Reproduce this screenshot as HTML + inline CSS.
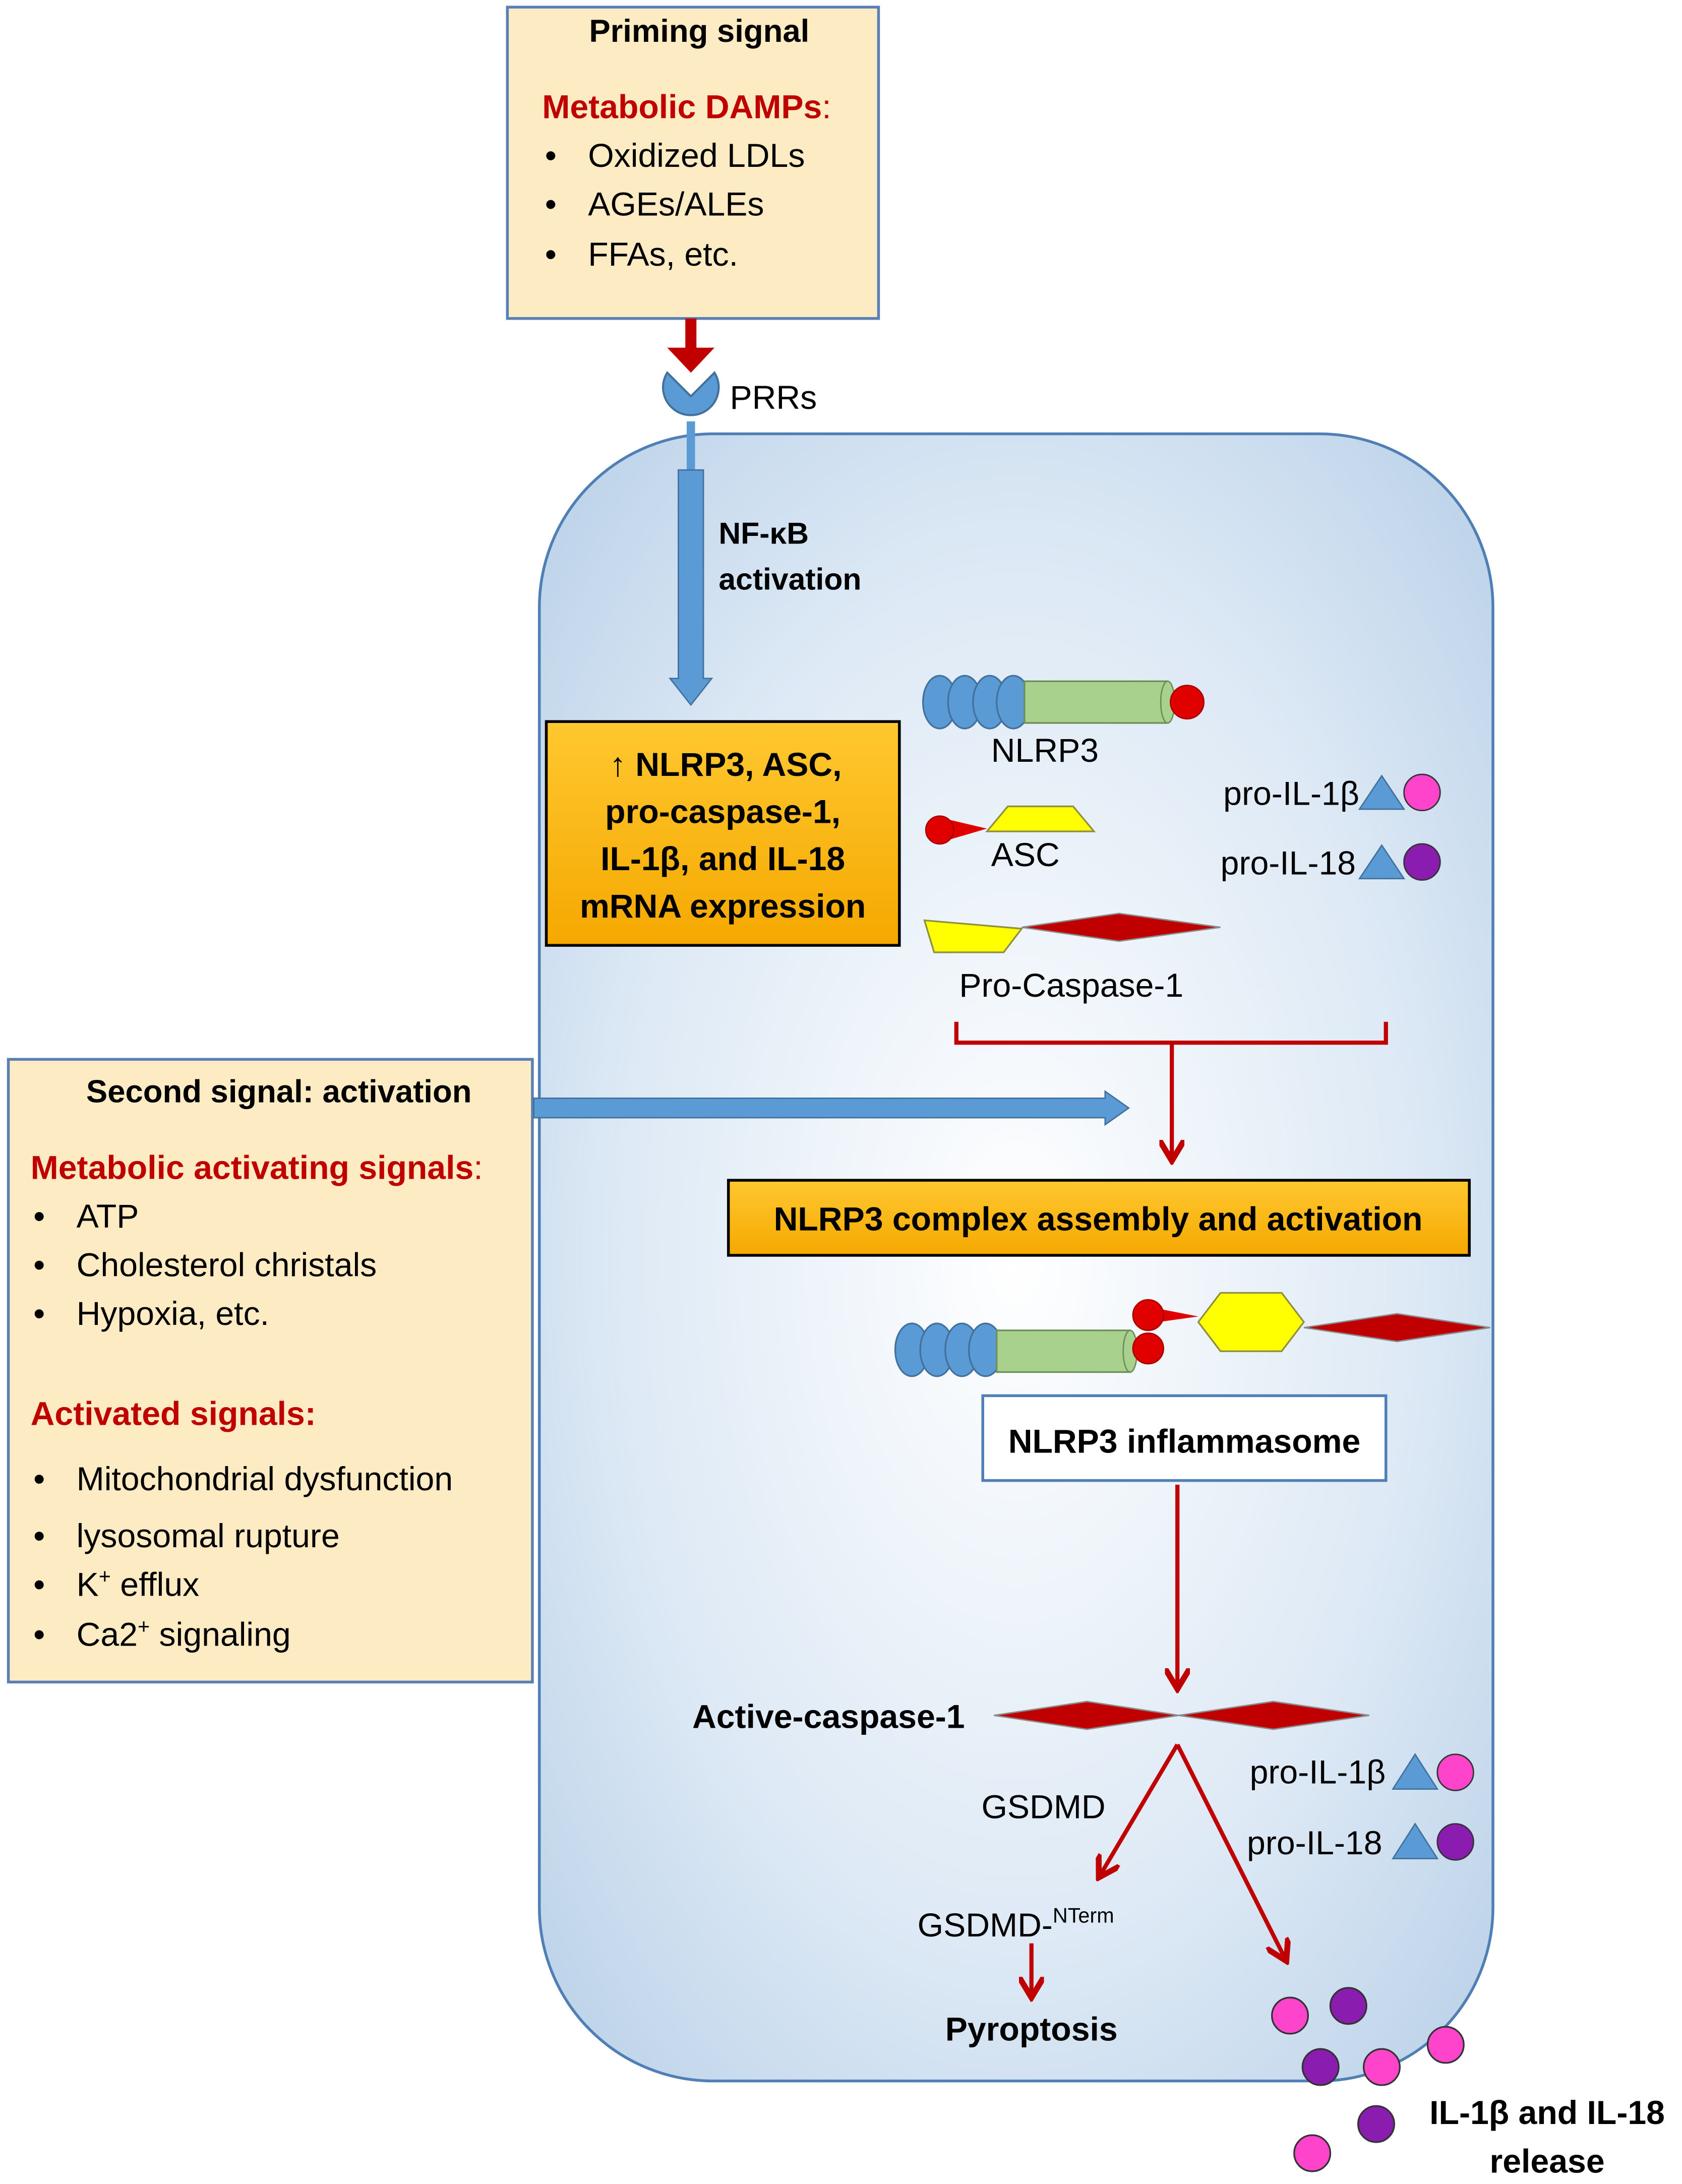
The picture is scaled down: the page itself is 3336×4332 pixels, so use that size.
<!DOCTYPE html>
<html><head><meta charset="utf-8"><style>
html,body{margin:0;padding:0;background:#fff;}
svg{display:block;}
text{font-family:"Liberation Sans",sans-serif;}
</style></head><body>
<svg width="3336" height="4332" viewBox="0 0 1210 1571" xmlns="http://www.w3.org/2000/svg">
<defs>
<radialGradient id="cell" cx="0.5" cy="0.5" r="0.7">
<stop offset="0" stop-color="#ffffff"/><stop offset="0.6" stop-color="#dde9f5"/><stop offset="1" stop-color="#b9d0e8"/>
</radialGradient>
<linearGradient id="org" x1="0" y1="0" x2="0" y2="1"><stop offset="0" stop-color="#ffc830"/><stop offset="1" stop-color="#f5a800"/></linearGradient>
<marker id="rh" markerWidth="6" markerHeight="6" refX="4" refY="3" orient="auto" markerUnits="strokeWidth"><path d="M0,0 L5,3 L0,6" fill="none" stroke="#c00000" stroke-width="1.4"/></marker>
</defs>
<rect x="388" y="312" width="686" height="1185" rx="125" fill="url(#cell)" stroke="#4f7fb5" stroke-width="2"/>
<rect x="365" y="5" width="267" height="224" fill="#fdebc4" stroke="#5a7fb5" stroke-width="2"/>
<text x="503" y="30" font-size="23" font-weight="bold" text-anchor="middle">Priming signal</text>
<text x="390" y="85" font-size="24" font-weight="bold" fill="#c00000">Metabolic DAMPs<tspan font-weight="normal">:</tspan></text>
<g font-size="24"><text x="392" y="120">•</text><text x="423" y="120">Oxidized LDLs</text>
<text x="392" y="155">•</text><text x="423" y="155">AGEs/ALEs</text>
<text x="392" y="191">•</text><text x="423" y="191">FFAs, etc.</text></g>
<rect x="493" y="229" width="8" height="22" fill="#c00000"/>
<path d="M480,250 L514,250 L497,268 Z" fill="#c00000"/>
<path d="M480,268 A20,20 0 1 0 514,268 L497,285 Z" fill="#5b9bd5" stroke="#41719c" stroke-width="1.5"/>
<text x="525" y="294" font-size="24">PRRs</text>
<rect x="494" y="303" width="6" height="35" fill="#5b9bd5"/>
<path d="M488,338 L506,338 L506,488 L512,488 L497,507 L482,488 L488,488 Z" fill="#5b9bd5" stroke="#41719c" stroke-width="1"/>
<text x="517" y="391" font-size="22" font-weight="bold">NF-κB</text>
<text x="517" y="424" font-size="22" font-weight="bold">activation</text>
<rect x="393" y="519" width="254" height="161" fill="url(#org)" stroke="#000" stroke-width="2"/>
<g font-size="24" font-weight="bold" text-anchor="middle">
<text x="522" y="558">↑ NLRP3,  ASC,</text>
<text x="520" y="592">pro-caspase-1,</text>
<text x="520" y="626">IL-1β, and IL-18</text>
<text x="520" y="660">mRNA expression</text></g>
<g fill="#5b9bd5" stroke="#41719c" stroke-width="1.2">
<ellipse cx="676" cy="505" rx="12" ry="19"/><ellipse cx="694" cy="505" rx="12" ry="19"/><ellipse cx="712" cy="505" rx="12" ry="19"/><ellipse cx="729" cy="505" rx="12" ry="19"/></g>
<rect x="737" y="490" width="103" height="30" fill="#a9d18e" stroke="#6f8f5a" stroke-width="1.2"/>
<ellipse cx="840" cy="505" rx="5" ry="15" fill="#a9d18e" stroke="#6f8f5a"/>
<circle cx="854" cy="505" r="12" fill="#e00000" stroke="#a00" />
<text x="713" y="548" font-size="24">NLRP3</text>
<path d="M676,588 L710,596 L676,606 Z" fill="#e00000"/>
<circle cx="676" cy="597" r="10" fill="#e00000" stroke="#a00"/>
<path d="M710,598 L725,580 L772,580 L787,598 Z" fill="#ffff00" stroke="#8f8f40" stroke-width="1.2"/>
<text x="713" y="623" font-size="24">ASC</text>
<path d="M665,662 L735,668 L722,685 L672,685 Z" fill="#ffff00" stroke="#8f8f40" stroke-width="1.2"/>
<path d="M735,667 L805,657 L878,667 L805,677 Z" fill="#c00000" stroke="#8a8a8a" stroke-width="1"/>
<text x="690" y="717" font-size="24">Pro-Caspase-1</text>
<g font-size="24"><text x="880" y="579">pro-IL-1β</text><text x="878" y="629">pro-IL-18</text></g>
<path d="M978,582 L994,558 L1010,582 Z" fill="#5b9bd5" stroke="#41719c"/>
<circle cx="1023" cy="570" r="13" fill="#ff44cc" stroke="#333"/>
<path d="M978,632 L994,608 L1010,632 Z" fill="#5b9bd5" stroke="#41719c"/>
<circle cx="1023" cy="620" r="13" fill="#8a1cb0" stroke="#333"/>
<path d="M688,735 L688,750 L997,750 L997,735" fill="none" stroke="#c00000" stroke-width="3"/>
<line x1="843" y1="750" x2="843" y2="832" stroke="#c00000" stroke-width="3" marker-end="url(#rh)"/>
<rect x="6" y="762" width="377" height="448" fill="#fdebc4" stroke="#5a7fb5" stroke-width="2"/>
<text x="62" y="793" font-size="23" font-weight="bold">Second signal: activation</text>
<text x="22" y="848" font-size="24" font-weight="bold" fill="#c00000">Metabolic activating signals<tspan font-weight="normal">:</tspan></text>
<g font-size="24">
<text x="24" y="883">•</text><text x="55" y="883">ATP</text>
<text x="24" y="918">•</text><text x="55" y="918">Cholesterol christals</text>
<text x="24" y="953">•</text><text x="55" y="953">Hypoxia, etc.</text>
</g>
<text x="22" y="1025" font-size="24" font-weight="bold" fill="#c00000">Activated signals:</text>
<g font-size="24">
<text x="24" y="1072">•</text><text x="55" y="1072">Mitochondrial dysfunction</text>
<text x="24" y="1113">•</text><text x="55" y="1113">lysosomal rupture</text>
<text x="24" y="1148">•</text><text x="55" y="1148">K<tspan font-size="15" dy="-9">+</tspan><tspan dy="9"> efflux</tspan></text>
<text x="24" y="1184">•</text><text x="55" y="1184">Ca2<tspan font-size="15" dy="-9">+</tspan><tspan dy="9"> signaling</tspan></text>
</g>
<path d="M384,790 L795,790 L795,785 L812,797 L795,809 L795,804 L384,804 Z" fill="#5b9bd5" stroke="#41719c" stroke-width="1"/>
<rect x="524" y="849" width="533" height="54" fill="url(#org)" stroke="#000" stroke-width="2"/>
<text x="790" y="885" font-size="24" font-weight="bold" text-anchor="middle">NLRP3 complex assembly and activation</text>
<g fill="#5b9bd5" stroke="#41719c" stroke-width="1.2">
<ellipse cx="656" cy="971" rx="12" ry="19"/><ellipse cx="674" cy="971" rx="12" ry="19"/><ellipse cx="692" cy="971" rx="12" ry="19"/><ellipse cx="709" cy="971" rx="12" ry="19"/></g>
<rect x="717" y="957" width="96" height="30" fill="#a9d18e" stroke="#6f8f5a" stroke-width="1.2"/>
<ellipse cx="813" cy="972" rx="5" ry="15" fill="#a9d18e" stroke="#6f8f5a"/>
<path d="M826,940 L862,947 L826,952 Z" fill="#e00000"/>
<circle cx="826" cy="946" r="11" fill="#e00000" stroke="#a00"/>
<circle cx="826" cy="970" r="11" fill="#e00000" stroke="#a00"/>
<path d="M862,951 L878,930 L922,930 L938,951 L922,972 L878,972 Z" fill="#ffff00" stroke="#8f8f40" stroke-width="1.2"/>
<path d="M938,955 L1005,945 L1072,955 L1005,965 Z" fill="#c00000" stroke="#8a8a8a" stroke-width="1"/>
<rect x="707" y="1004" width="290" height="61" fill="#fff" stroke="#4f7fb5" stroke-width="2"/>
<text x="852" y="1045" font-size="24" font-weight="bold" text-anchor="middle">NLRP3 inflammasome</text>
<line x1="847" y1="1068" x2="847" y2="1212" stroke="#c00000" stroke-width="3" marker-end="url(#rh)"/>
<text x="498" y="1243" font-size="24" font-weight="bold">Active-caspase-1</text>
<path d="M715,1234 L782,1224 L848,1234 L782,1244 Z" fill="#c00000" stroke="#8a8a8a"/>
<path d="M848,1234 L916,1224 L985,1234 L916,1244 Z" fill="#c00000" stroke="#8a8a8a"/>
<line x1="847" y1="1255" x2="792" y2="1348" stroke="#c00000" stroke-width="3" marker-end="url(#rh)"/>
<line x1="847" y1="1255" x2="924" y2="1408" stroke="#c00000" stroke-width="3" marker-end="url(#rh)"/>
<g font-size="24">
<text x="706" y="1308">GSDMD</text>
<text x="899" y="1283">pro-IL-1β</text><text x="897" y="1334">pro-IL-18</text>
<text x="660" y="1393">GSDMD-<tspan font-size="15" dy="-10">NTerm</tspan></text>
</g>
<path d="M1002,1287 L1018,1262 L1034,1287 Z" fill="#5b9bd5" stroke="#41719c"/>
<circle cx="1047" cy="1275" r="13" fill="#ff44cc" stroke="#333"/>
<path d="M1002,1337 L1018,1312 L1034,1337 Z" fill="#5b9bd5" stroke="#41719c"/>
<circle cx="1047" cy="1325" r="13" fill="#8a1cb0" stroke="#333"/>
<line x1="742" y1="1398" x2="742" y2="1434" stroke="#c00000" stroke-width="3" marker-end="url(#rh)"/>
<text x="680" y="1468" font-size="24" font-weight="bold">Pyroptosis</text>
<g stroke="#333" stroke-width="1.2">
<circle cx="928" cy="1450" r="13" fill="#ff44cc"/><circle cx="1040" cy="1471" r="13" fill="#ff44cc"/>
<circle cx="994" cy="1487" r="13" fill="#ff44cc"/><circle cx="944" cy="1549" r="13" fill="#ff44cc"/>
<circle cx="970" cy="1443" r="13" fill="#8a1cb0"/><circle cx="950" cy="1487" r="13" fill="#8a1cb0"/>
<circle cx="990" cy="1528" r="13" fill="#8a1cb0"/></g>
<text x="1113" y="1528" font-size="24" font-weight="bold" text-anchor="middle">IL-1β and IL-18</text>
<text x="1113" y="1563" font-size="24" font-weight="bold" text-anchor="middle">release</text>
</svg>
</body></html>
